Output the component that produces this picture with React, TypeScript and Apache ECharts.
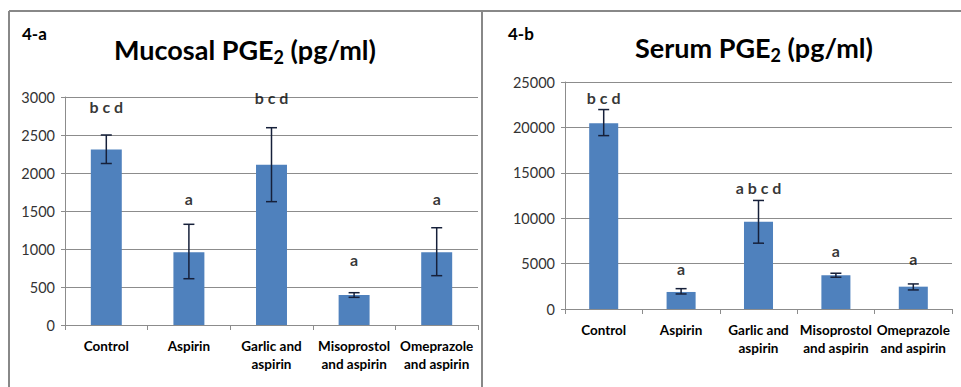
import React, { useEffect, useRef } from "react";
import * as echarts from "echarts";

const categories = ["Control", "Aspirin", "Garlic and\naspirin", "Misoprostol\nand aspirin", "Omeprazole\nand aspirin"];

const mucosalValues = [2310, 956, 2110, 395, 956];
const mucosalLow = [2125, 609, 1623, 364, 649];
const mucosalHigh = [2500, 1325, 2596, 425, 1280];
const mucosalLetters = ["b c d", "a", "b c d", "a", "a"];
const mucosalLetterY = [2880, 1671, 2987, 868, 1671];

const serumValues = [20450, 1876, 9600, 3720, 2460];
const serumLow = [19095, 1656, 7250, 3500, 2100];
const serumHigh = [21965, 2240, 11954, 3940, 2760];
const serumLetters = ["b c d", "a", "a b c d", "a", "a"];
const serumLetterY = [23290, 4415, 13355, 6400, 5520];

const FONT = "Lato, 'Open Sans', sans-serif";
const BAR = "#4f81bd";
const GRID = "#8c8c8c";

function errorSeries(idx: number, low: number[], high: number[]) {
  return {
    type: "custom",
    xAxisIndex: idx,
    yAxisIndex: idx,
    silent: true,
    z: 5,
    data: low.map((l, i) => [i, l, high[i]]),
    renderItem: (params: any, api: any) => {
      const x = api.value(0);
      const lo = api.coord([x, api.value(1)]);
      const hi = api.coord([x, api.value(2)]);
      const w = 5.5;
      const style = { stroke: "#16203a", lineWidth: 1.5 };
      return {
        type: "group",
        children: [
          { type: "line", shape: { x1: lo[0], y1: lo[1], x2: hi[0], y2: hi[1] }, style },
          { type: "line", shape: { x1: lo[0] - w, y1: lo[1], x2: lo[0] + w, y2: lo[1] }, style },
          { type: "line", shape: { x1: hi[0] - w, y1: hi[1], x2: hi[0] + w, y2: hi[1] }, style },
        ],
      };
    },
  };
}

function letterSeries(idx: number, ys: number[], letters: string[]) {
  return {
    type: "scatter",
    xAxisIndex: idx,
    yAxisIndex: idx,
    silent: true,
    symbolSize: 0,
    data: ys.map((y, i) => [i, y]),
    label: {
      show: true,
      position: "inside",
      formatter: (p: any) => letters[p.dataIndex],
      color: "#000",
      fontWeight: "bold",
      fontSize: 16,
      fontFamily: FONT,
    },
  };
}

function xAxis(idx: number) {
  return {
    type: "category",
    gridIndex: idx,
    data: categories,
    axisLine: { show: true, lineStyle: { color: GRID } },
    axisTick: { show: true, length: 5, lineStyle: { color: GRID } },
    axisLabel: {
      interval: 0,
      color: "#000",
      fontWeight: "bold",
      fontSize: 13.5,
      fontFamily: FONT,
      lineHeight: 18,
      margin: 12,
    },
  };
}

function yAxis(idx: number, max: number, interval: number) {
  return {
    type: "value",
    gridIndex: idx,
    min: 0,
    max,
    interval,
    axisLine: { show: true, lineStyle: { color: GRID } },
    axisTick: { show: true, length: 4, lineStyle: { color: GRID } },
    splitLine: { show: true, lineStyle: { color: GRID, width: 1 } },
    axisLabel: { color: "#333", fontSize: 14.5, fontFamily: FONT, margin: 10, formatter: (v: number) => String(v) },
  };
}

export default function App() {
  const ref = useRef<HTMLDivElement>(null);
  useEffect(() => {
    if (!ref.current) return;
    const chart = echarts.init(ref.current, null, { renderer: "svg" });
    const titleRich = {
      t: { fontSize: 27, fontWeight: "bold", fontFamily: FONT, color: "#000" },
      s: { fontSize: 18, fontWeight: "bold", fontFamily: FONT, color: "#000", padding: [16, 0, 0, 0] },
    };
    chart.setOption({
      animation: false,
      backgroundColor: "#fff",
      grid: [
        { left: 65, right: 961 - 478, top: 97, bottom: 387 - 325 },
        { left: 565, right: 9, top: 82, bottom: 387 - 309 },
      ],
      xAxis: [xAxis(0), xAxis(1)],
      yAxis: [yAxis(0, 3000, 500), yAxis(1, 25000, 5000)],
      series: [
        { type: "bar", xAxisIndex: 0, yAxisIndex: 0, data: mucosalValues, barWidth: "37.5%", itemStyle: { color: BAR } },
        { type: "bar", xAxisIndex: 1, yAxisIndex: 1, data: serumValues, barWidth: "37.5%", itemStyle: { color: BAR } },
        errorSeries(0, mucosalLow, mucosalHigh),
        errorSeries(1, serumLow, serumHigh),
        letterSeries(0, mucosalLetterY, mucosalLetters),
        letterSeries(1, serumLetterY, serumLetters),
      ],
      graphic: [
        { type: "line", shape: { x1: 9, y1: 11, x2: 961, y2: 11 }, style: { stroke: "#888", lineWidth: 2 } },
        { type: "line", shape: { x1: 9, y1: 11, x2: 9, y2: 387 }, style: { stroke: "#888", lineWidth: 2 } },
        { type: "line", shape: { x1: 482, y1: 11, x2: 482, y2: 387 }, style: { stroke: "#888", lineWidth: 2 } },
        { type: "text", x: 22, y: 33, style: { text: "4-a", fontSize: 17, fontWeight: "bold", fontFamily: FONT, fill: "#000", verticalAlign: "middle" } },
        { type: "text", x: 508, y: 33, style: { text: "4-b", fontSize: 17, fontWeight: "bold", fontFamily: FONT, fill: "#000", verticalAlign: "middle" } },
        {
          type: "text", x: 245, y: 49,
          style: { text: "{t|Mucosal PGE}{s|2}{t| (pg/ml)}", rich: titleRich, align: "center", verticalAlign: "middle" },
        },
        {
          type: "text", x: 754, y: 47,
          style: { text: "{t|Serum PGE}{s|2}{t| (pg/ml)}", rich: titleRich, align: "center", verticalAlign: "middle" },
        },
      ],
    });
    return () => chart.dispose();
  }, []);
  return <div ref={ref} style={{ position: "fixed", left: 0, top: 0, width: 961, height: 387 }} />;
}
